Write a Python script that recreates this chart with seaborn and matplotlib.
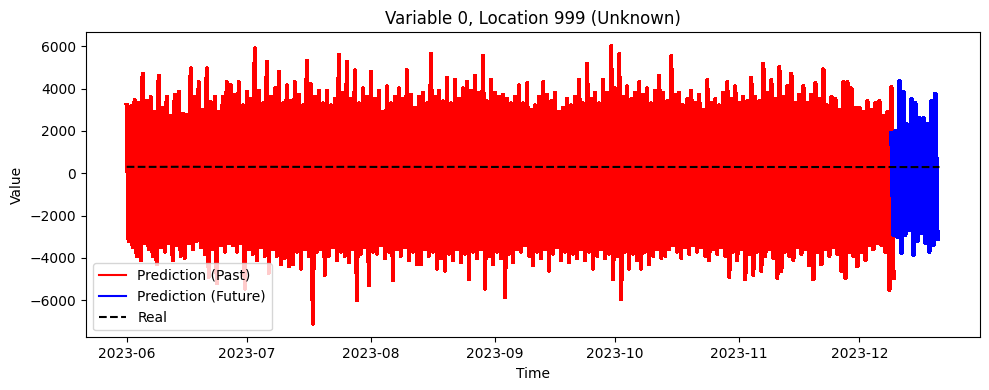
import numpy as np
import pandas as pd
import matplotlib
matplotlib.use("Agg")
import matplotlib.pyplot as plt
import seaborn as sns

# ---- data (daily upper / lower extremes) ----
past_start = "2023-06-01"
past_high = [
    # Jun 1 - Jun 26
    3200, 3150, 3450, 3300, 4700, 3400, 3600, 2900, 4600, 3100, 3600, 2700, 3700,
    3850, 2800, 2750, 4950, 3600, 4300, 3000, 4950, 3350, 3600, 2900, 3600, 4300,
    # Jun 27 - Aug 1
    4150, 3700, 4300, 3200, 3840, 3500, 5890, 3900, 3300, 5260, 3600, 4000, 4790,
    3300, 4150, 3400, 4300, 3700, 3200, 5300, 4200, 3600, 3900, 3300, 3900, 3200,
    3500, 5600, 3800, 5260, 3500, 4860, 3300, 4000, 3600, 4800,
    # Aug 2 - Sep 6
    3500, 3900, 2900, 4100, 3300, 3600, 4000, 3500, 4865, 3700, 3100, 3600, 3800,
    3300, 5650, 3600, 3900, 3400, 4500, 3300, 4400, 3500, 4000, 4300, 3900, 4600,
    3800, 5550, 3400, 4400, 3800, 3600, 3700, 3500, 3300, 3600,
    # Sep 7 - Oct 12
    4150, 3300, 4250, 3000, 3200, 3600, 4300, 3700, 3400, 3800, 2900, 3100, 3500,
    3200, 3600, 4400, 3300, 5180, 3500, 3800, 3300, 4400, 3800, 6000, 4000, 5620,
    3600, 4100, 3500, 3800, 4300, 3700, 4000, 3300, 3900, 4600,
    # Oct 13 - Nov 16
    3800, 3400, 5530, 3700, 3800, 3200, 3500, 3900, 3300, 3700, 3000, 4400, 3300,
    3500, 3200, 3800, 4300, 3500, 4100, 3300, 3600, 3400, 4500, 3600, 3400, 5180,
    3800, 4400, 3500, 5000, 3600, 4100, 4700, 3300, 3700,
    # Nov 17 - Dec 9
    4100, 3300, 3700, 4250, 3500, 4900, 3200, 3600, 3500, 3000, 4300, 4300, 4000,
    3100, 3100, 2900, 3400, 3000, 3300, 3400, 2700, 2900, 4050,
]
past_low = [
    -3200, -3500, -3900, -4100, -3300, -3600, -3900, -4300, -3500, -3700, -3300, -4100, -3400,
    -3900, -4000, -3300, -3600, -3200, -3500, -3800, -4900, -3600, -5200, -3400, -3700, -3300,
    -3400, -3700, -3300, -5450, -3600, -3800, -4100, -3500, -3900, -4700, -3600, -3900, -4300,
    -4000, -4400, -4300, -3700, -4500, -3600, -3900, -7100, -3700, -3600, -4800, -3900, -3500,
    -4100, -3700, -3900, -4200, -3600, -6000, -3800, -3500, -5300, -3700,
    -3800, -3400, -4000, -3700, -5060, -3600, -3900, -3500, -4100, -3700, -4300, -4300, -3600,
    -3900, -3700, -4500, -4000, -4600, -3800, -4100, -3600, -4200, -3800, -5000, -3700, -4000,
    -3600, -5450, -3900, -4300, -3700, -4000, -5850, -3800, -4200, -3600,
    -3700, -3400, -3900, -4350, -3700, -4000, -3600, -4600, -3800, -3500, -4100, -3700, -4200,
    -3800, -4000, -3600, -4100, -3700, -4500, -3900, -3600, -4000, -3800, -5000, -3900, -5950,
    -3700, -4500, -3800, -4100, -4500, -3700, -4300, -3900, -3600, -4000,
    -3900, -3600, -3400, -3700, -4000, -3500, -3800, -3400, -3700, -3500, -3900, -4100, -3600,
    -3800, -3500, -3900, -4900, -3700, -4100, -3600, -5000, -3800, -4800, -3700, -4600, -3900,
    -3600, -4000, -4950, -4600, -3700, -3900, -4100, -3500, -3800,
    -3600, -4350, -5000, -3700, -4300, -3600, -3900, -3500, -3800, -4600, -4950, -3700, -3900,
    -4400, -3700, -4100, -3400, -3600, -3300, -3400, -3700, -5500, -4950,
]

future_start = "2023-12-09"
future_high = [1900, 2000, 4360, 3840, 2300, 3500, 3300, 2600, 2600, 2300, 3400, 3760]
future_low = [-2900, -3000, -3770, -2900, -2700, -3870, -3200, -2800, -3300, -3700, -3400, -3100]

real_start = "2023-06-01"
real_values = [302, 300, 305, 301, 298, 303, 300, 299, 302, 297, 300, 298, 301, 296, 299,
               297, 300, 295, 298, 296, 294, 297, 293, 295, 292, 294, 291, 293, 290, 292]

assert len(past_high) == len(past_low)
assert len(future_high) == len(future_low)


def zigzag(start, highs, lows):
    days = pd.date_range(start, periods=len(highs), freq="D")
    t = np.empty(2 * len(highs), dtype="datetime64[ns]")
    v = np.empty(2 * len(highs))
    t[0::2] = days.values
    t[1::2] = (days + pd.Timedelta(hours=12)).values
    v[0::2] = highs
    v[1::2] = lows
    return pd.DataFrame({"Time": pd.to_datetime(t), "Value": v})


past_df = zigzag(past_start, past_high, past_low)
future_df = zigzag(future_start, future_high, future_low)
real_df = pd.DataFrame({
    "Time": pd.date_range(real_start, periods=len(real_values), freq="7D"),
    "Value": real_values,
})

fig, ax = plt.subplots(figsize=(9.89, 3.9), dpi=100)
sns.lineplot(data=past_df, x="Time", y="Value", color="red", label="Prediction (Past)",
             ax=ax, estimator=None, sort=False, linewidth=2.4, antialiased=False)
sns.lineplot(data=future_df, x="Time", y="Value", color="blue", label="Prediction (Future)",
             ax=ax, estimator=None, sort=False, linewidth=2.4, antialiased=False)
sns.lineplot(data=real_df, x="Time", y="Value", color="black", linestyle="--", label="Real",
             ax=ax, estimator=None, sort=False, linewidth=1.5)

ax.set_title("Variable 0, Location 999 (Unknown)")
ax.set_xlabel("Time")
ax.set_ylabel("Value")
leg = ax.legend(loc="lower left")
for h in leg.get_lines():
    h.set_linewidth(1.5)
    h.set_antialiased(True)
fig.subplots_adjust(left=0.087, right=0.991, top=0.917, bottom=0.135)
fig.savefig("out.png", dpi=100)
